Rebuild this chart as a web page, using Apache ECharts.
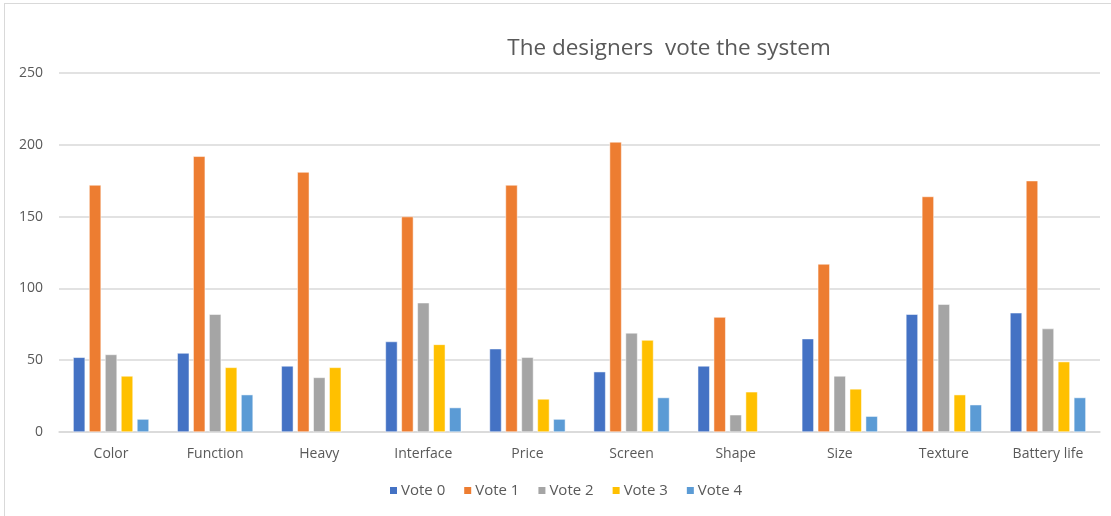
<!DOCTYPE html>
<html>
<head>
<meta charset="utf-8">
<script src="https://cdn.jsdelivr.net/npm/echarts@6/dist/echarts.min.js"></script>
<style>
html,body{margin:0;padding:0;background:#fff;}
#chart{position:absolute;left:0;top:0;width:1111px;height:516px;}
#frame{position:absolute;left:4px;top:3px;width:1120px;height:520px;border:1.5px solid #d9d9d9;box-sizing:border-box;pointer-events:none;}
</style>
</head>
<body>
<div id="chart"></div>
<div id="frame"></div>
<script>
const categories = ['Color','Function','Heavy','Interface','Price','Screen','Shape','Size','Texture','Battery life'];
const seriesNames = ['Vote 0','Vote 1','Vote 2','Vote 3','Vote 4'];
const vote0 = [52, 55, 46, 63, 58, 42, 46, 65, 82, 83];
const vote1 = [172, 192, 181, 150, 172, 202, 80, 117, 164, 175];
const vote2 = [54, 82, 38, 90, 52, 69, 12, 39, 89, 72];
const vote3 = [39, 45, 45, 61, 23, 64, 28, 30, 26, 49];
const vote4 = [9, 26, 0, 17, 9, 24, 0, 11, 19, 24];
const yTicks = [0, 50, 100, 150, 200, 250];
const colors = ['#4472C4','#ED7D31','#A5A5A5','#FFC000','#5B9BD5'];

const allData = [vote0, vote1, vote2, vote3, vote4];
const font = 'Open Sans, Noto Sans, sans-serif';
const chart = echarts.init(document.getElementById('chart'), null, {renderer:'canvas'});
chart.setOption({
  animation: false,
  color: colors,
  title: {
    text: 'The designers  vote the system',
    left: 664, top: 32, textAlign: 'center',
    textStyle: {fontFamily: font, fontSize: 22.5, fontWeight: 'normal', color: '#595959'}
  },
  legend: {
    data: seriesNames,
    bottom: 13, left: 383,
    itemWidth: 9, itemHeight: 9, itemGap: 17,
    icon: 'rect',
    textStyle: {fontFamily: font, fontSize: 15, color: '#595959', padding:[0,0,0,-2]}
  },
  grid: {left: 59, right: 11, top: 73, bottom: 84, containLabel: false},
  xAxis: {
    type: 'category',
    data: categories,
    axisLine: {lineStyle: {color: '#d9d9d9', width: 1.5}},
    axisTick: {show: false},
    axisLabel: {fontFamily: font, fontSize: 14, color: '#595959', margin: 15}
  },
  yAxis: {
    type: 'value',
    min: yTicks[0], max: yTicks[yTicks.length-1], interval: 50,
    axisLine: {show: false},
    axisTick: {show: false},
    axisLabel: {fontFamily: font, fontSize: 14, color: '#595959', margin: 16},
    splitLine: {lineStyle: {color: '#d9d9d9', width: 1.5}}
  },
  series: seriesNames.map((n, i) => ({
    name: n,
    type: 'bar',
    data: allData[i].map(v => v === 0 ? null : v),
    barWidth: 12,
    barGap: '33%',
    itemStyle: {color: colors[i], borderColor: '#ffffff', borderWidth: 0.5}
  }))
});
</script>
</body>
</html>
